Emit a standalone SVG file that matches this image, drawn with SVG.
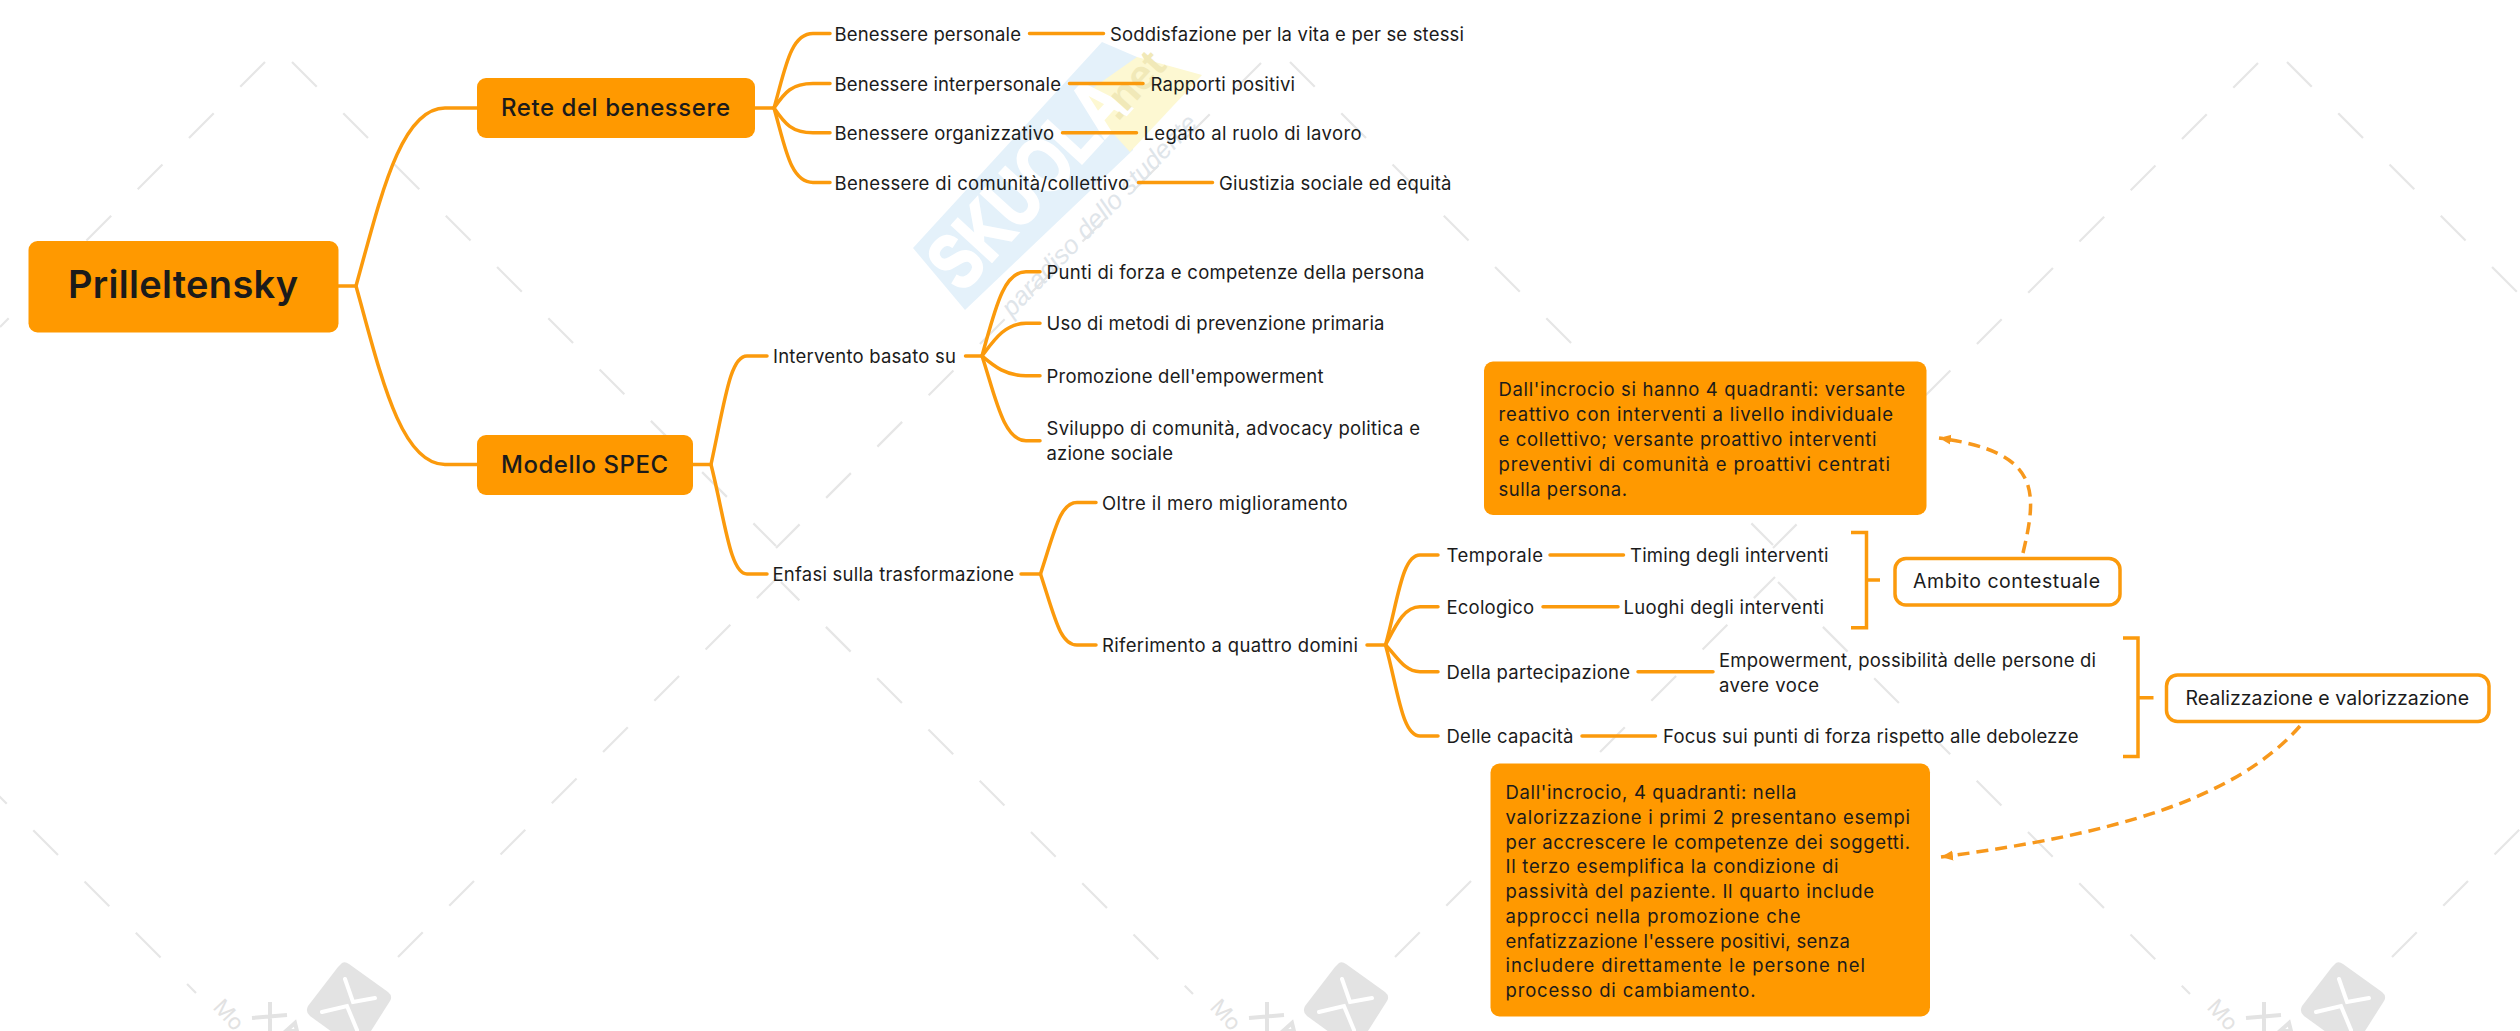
<svg xmlns="http://www.w3.org/2000/svg" xmlns:xlink="http://www.w3.org/1999/xlink" width="2520" height="1031" viewBox="0 0 2520 1031">
<style>
text{font-family:Inter,"Liberation Sans",sans-serif;fill:#1b1b1b;font-size:18.5px}
.root{font-size:38px;font-weight:600}
.main{font-size:24px;font-weight:500}
.frame{font-size:19.5px}
.fill{fill:#ff9900}
.box{fill:#fff;stroke:#fb9a0c;stroke-width:3.5}
.c{fill:none;stroke:#fb9a0c;stroke-width:3.5;stroke-linecap:round}
.d{fill:none;stroke:#f7981c;stroke-width:3.5;stroke-dasharray:12 7}
.w{stroke:#e6e6e6;stroke-width:2.2;fill:none;stroke-dasharray:35 37.5}
.wt{fill:#e2e2e2;font-size:22px}
</style>
<defs>
<marker id="ah" markerUnits="userSpaceOnUse" markerWidth="14" markerHeight="14" refX="12" refY="6" orient="auto"><path d="M0 1L12 6L0 11Z" fill="#f7981c"/></marker>
<g id="wlogo">
<path d="M342 963Q345 961 349 964L388 992Q393 996 390 1001L364 1042Q358 1050 350 1045L310 1016Q305 1012 308 1006L338 967Z" fill="#e3e3e3"/>
<path d="M345 979L353 1002L375 998M322 1012L347 1006L357 1030" fill="none" stroke="#fff" stroke-width="4" stroke-linecap="round"/>
<path d="M270 1002V1031M252 1018L287 1015M286 1031L295 1023L297 1031Z" fill="none" stroke="#e3e3e3" stroke-width="4"/>
<text class="wt" transform="translate(212 1008) rotate(47)">Mo</text>
</g>
</defs>
<rect width="2520" height="1031" fill="#fff"/>
<g id="watermark">
<path class="w" d="M265 62L0 327"/>
<path class="w" d="M292 62L776 546"/>
<path class="w" d="M1261 63L776 548"/>
<path class="w" d="M1290 62L1773 545"/>
<path class="w" d="M2258 63L1773 548"/>
<path class="w" d="M2287 62L2520 295"/>
<path class="w" d="M-18 779L196 993"/>
<path class="w" d="M398 957L778 577"/>
<path class="w" stroke-dashoffset="9" d="M781 582L1193 994"/>
<path class="w" d="M1395 957L1775 577"/>
<path class="w" stroke-dashoffset="9" d="M1778 582L2190 994"/>
<path class="w" d="M2392 957L2520 829"/>
<use href="#wlogo"/>
<use href="#wlogo" x="997"/>
<use href="#wlogo" x="1994"/>
<path d="M913 248L1102 42L1137 57L1133 150L965 310Z" fill="#e4f1fa"/>
<path d="M1137 57L1202 75L1130 152L1080 97Z" fill="#fdf8d2"/>
<text transform="translate(962 294) rotate(-47.500) scale(1 1.3)" style="font-family:'Liberation Sans',sans-serif;font-weight:700;font-size:60px;fill:#fff;stroke:#fff;stroke-width:2">SKUOLA</text>
<text transform="translate(1118 122) rotate(-48)" style="font-family:'Liberation Sans',sans-serif;font-weight:700;font-size:42px;fill:#f1e9b8">.net</text>
<text transform="translate(1012 318) rotate(-46)" style="font-family:'Liberation Sans',sans-serif;font-style:italic;font-size:26px;fill:#dfe5ea">paradiso dello studente</text>
</g>
<g id="connectors">
<path class="c" d="M338 286H356C380 200 400 108 445 108H477"/>
<path class="c" d="M356 286C380 372 400 464.5 445 464.5H477"/>
<path class="c" d="M755 108H774C785 70 790 33.5 813 33.5H830"/>
<path class="c" d="M774 108C785 92 792 83.5 813 83.5H830"/>
<path class="c" d="M774 108C785 124 792 132.7 813 132.7H830"/>
<path class="c" d="M774 108C785 146 790 182.5 813 182.5H830"/>
<path class="c" d="M1029.5 33.5H1103.5M1069.5 83.5H1143M1062.5 132.7H1136.5M1138.5 182.5H1212.5"/>
<path class="c" d="M693 464.5H711C725 400 730 356 747 356H767"/>
<path class="c" d="M711 464.5C725 520 730 574 747 574H767"/>
<path class="c" d="M965.5 356H982C995 310 1003 271.7 1026 271.7H1040"/>
<path class="c" d="M982 356C994 340 1005 323.3 1026 323.3H1040"/>
<path class="c" d="M982 356C994 366 1005 375.7 1026 375.7H1040"/>
<path class="c" d="M982 356C995 395 1003 440.7 1026 440.7H1040"/>
<path class="c" d="M1021 574H1040.5C1055 530 1060 502.5 1077 502.5H1096"/>
<path class="c" d="M1040.5 574C1055 618 1060 645 1077 645H1096"/>
<path class="c" d="M1367 645H1385.5C1398 600 1402 555 1420 555H1438"/>
<path class="c" d="M1385.5 645C1396 625 1404 606.7 1420 606.7H1438"/>
<path class="c" d="M1385.5 645C1396 655 1404 671.7 1420 671.7H1438"/>
<path class="c" d="M1385.5 645C1398 690 1402 736 1420 736H1438"/>
<path class="c" d="M1550 555H1623.5M1543 606.7H1618M1638 671.7H1713M1582 736H1655.5"/>
<path class="c" style="stroke-linecap:butt" d="M1851 532.5H1866.5V627.7H1851M1866.5 580H1880"/>
<path class="c" style="stroke-linecap:butt" d="M2123 638H2138V756.5H2123M2138 697.7H2153.5"/>
<path class="d" marker-end="url(#ah)" d="M2023 553C2038 490 2040 452 1939 438"/>
<path class="d" marker-end="url(#ah)" d="M2300 726C2235 800 2110 835 1941 857"/>
</g>
<g id="n-root"><rect class="fill" x="28.500" y="241" width="310" height="91.500" rx="9"/><text class="root" x="68" y="298" textLength="230">Prilleltensky</text></g>
<g id="n-rete"><rect class="fill" x="477" y="78" width="278" height="60" rx="9"/><text class="main" x="501" y="116" textLength="229">Rete del benessere</text></g>
<g id="n-spec"><rect class="fill" x="477" y="435" width="216" height="60" rx="9"/><text class="main" x="501" y="472.500" textLength="167">Modello SPEC</text></g>
<g id="n-b1"><text x="834.500" y="40.500" textLength="186.500">Benessere personale</text></g>
<g id="n-b2"><text x="834.500" y="90.500" textLength="226.500">Benessere interpersonale</text></g>
<g id="n-b3"><text x="834.500" y="139.700" textLength="219.500">Benessere organizzativo</text></g>
<g id="n-b4"><text x="834.500" y="189.500" textLength="294.500">Benessere di comunità/collettivo</text></g>
<g id="n-b1a"><text x="1110" y="40.500" textLength="354">Soddisfazione per la vita e per se stessi</text></g>
<g id="n-b2a"><text x="1150.500" y="90.500" textLength="144.500">Rapporti positivi</text></g>
<g id="n-b3a"><text x="1143.500" y="139.700" textLength="218">Legato al ruolo di lavoro</text></g>
<g id="n-b4a"><text x="1219" y="189.500" textLength="232.500">Giustizia sociale ed equità</text></g>
<g id="n-int"><text x="773" y="363" textLength="183">Intervento basato su</text></g>
<g id="n-enf"><text x="772.500" y="581" textLength="241.500">Enfasi sulla trasformazione</text></g>
<g id="n-i1"><text x="1046.500" y="278.700" textLength="378">Punti di forza e competenze della persona</text></g>
<g id="n-i2"><text x="1046.500" y="330.300" textLength="338">Uso di metodi di prevenzione primaria</text></g>
<g id="n-i3"><text x="1046.500" y="382.700" textLength="277">Promozione dell'empowerment</text></g>
<g id="n-i4"><text x="1046.500" y="435" textLength="373.500">Sviluppo di comunità, advocacy politica e</text><text x="1046.500" y="460" textLength="126.500">azione sociale</text></g>
<g id="n-e1"><text x="1102" y="509.500" textLength="245.500">Oltre il mero miglioramento</text></g>
<g id="n-e2"><text x="1102" y="652" textLength="256">Riferimento a quattro domini</text></g>
<g id="n-d1"><text x="1446.500" y="562" textLength="96.500">Temporale</text></g>
<g id="n-d1a"><text x="1630" y="562" textLength="198.500">Timing degli interventi</text></g>
<g id="n-d2"><text x="1446.500" y="613.700" textLength="87.500">Ecologico</text></g>
<g id="n-d2a"><text x="1623.500" y="613.700" textLength="200.500">Luoghi degli interventi</text></g>
<g id="n-d3"><text x="1446.500" y="678.700" textLength="183.500">Della partecipazione</text></g>
<g id="n-d3a"><text x="1719" y="667" textLength="377">Empowerment, possibilità delle persone di</text><text x="1719" y="692" textLength="100">avere voce</text></g>
<g id="n-d4"><text x="1446.500" y="743" textLength="127">Delle capacità</text></g>
<g id="n-d4a"><text x="1663" y="743" textLength="415.500">Focus sui punti di forza rispetto alle debolezze</text></g>
<g id="n-amb"><rect class="box" x="1895" y="558.500" width="225" height="46.500" rx="11"/><text class="frame" x="1913" y="588" textLength="187">Ambito contestuale</text></g>
<g id="n-real"><rect class="box" x="2166.500" y="675" width="322.500" height="46.500" rx="11"/><text class="frame" x="2185.500" y="705" textLength="283.500">Realizzazione e valorizzazione</text></g>
<g id="n-note1"><rect class="fill" x="1484" y="361.500" width="442.500" height="153.500" rx="9"/>
<text x="1498.500" y="396" textLength="406.500">Dall'incrocio si hanno 4 quadranti: versante</text>
<text x="1498.500" y="420.500" textLength="394.500">reattivo con interventi a livello individuale</text>
<text x="1498.500" y="445.500" textLength="378">e collettivo; versante proattivo interventi</text>
<text x="1498.500" y="471" textLength="391.500">preventivi di comunità e proattivi centrati</text>
<text x="1498.500" y="496" textLength="128.500">sulla persona.</text></g>
<g id="n-note2"><rect class="fill" x="1490.500" y="763.500" width="439.500" height="253" rx="9"/>
<text x="1505.500" y="798.700" textLength="291">Dall'incrocio, 4 quadranti: nella</text>
<text x="1505.500" y="823.700" textLength="404.500">valorizzazione i primi 2 presentano esempi</text>
<text x="1505.500" y="848.700" textLength="404.500">per accrescere le competenze dei soggetti.</text>
<text x="1505.500" y="873" textLength="333">Il terzo esemplifica la condizione di</text>
<text x="1505.500" y="897.700" textLength="368.500">passività del paziente. Il quarto include</text>
<text x="1505.500" y="922.700" textLength="295">approcci nella promozione che</text>
<text x="1505.500" y="947.700" textLength="344.500">enfatizzazione l'essere positivi, senza</text>
<text x="1505.500" y="972" textLength="359.500">includere direttamente le persone nel</text>
<text x="1505.500" y="997" textLength="250">processo di cambiamento.</text></g>
</svg>
